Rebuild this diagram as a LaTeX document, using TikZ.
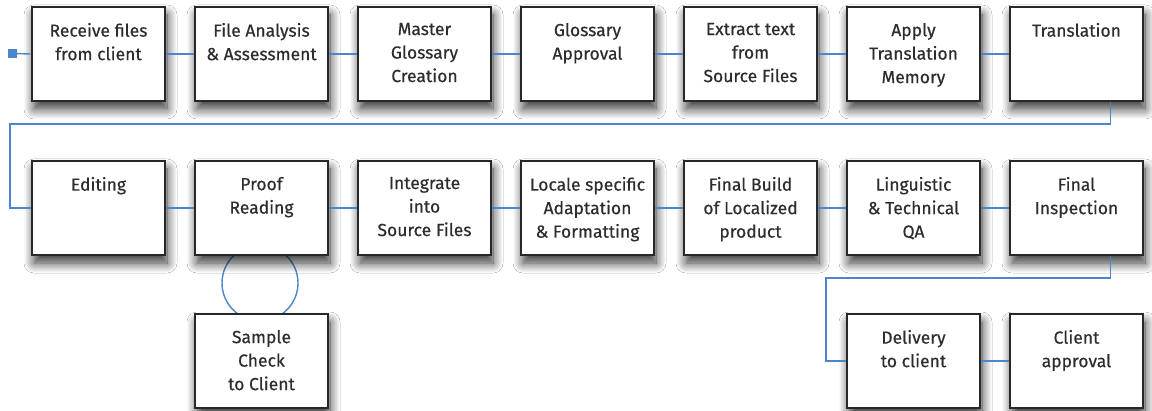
\documentclass[tikz,border=0pt]{standalone}
\usepackage{fontspec}
\setmainfont{Fira Sans}[FakeBold=0.4]
\usetikzlibrary{shadows.blur,calc}
\definecolor{conn}{RGB}{74,134,204}
\definecolor{edgec}{RGB}{40,40,40}
\definecolor{txt}{RGB}{45,45,45}
\newcommand{\bt}[1]{\parbox[c][94pt][t]{133pt}{\centering\fontsize{17.5}{23.5}\selectfont\vspace*{16pt}#1}}
\tikzset{
  box/.style={draw=edgec, line width=2.6pt, fill=white, inner sep=0pt, text=txt,
    blur shadow={shadow xshift=2pt, shadow yshift=-8pt, shadow blur radius=10pt, shadow opacity=80, shadow blur steps=12}},
  link/.style={draw=conn, line width=1.4pt},
  startsq/.style={fill=conn, minimum size=9pt, inner sep=0pt}
}
\begin{document}
\begin{tikzpicture}[x=1pt,y=-1pt]
\useasboundingbox[fill=white] (0,0) rectangle (1152,411);
\node[circle, link, minimum size=76pt, inner sep=0pt] (loop) at (260,283) {};
% row 1
\node[box] (r1) at (98.5,54) {\bt{Receive files\\from client}};
\node[box] (r2) at (261.5,54) {\bt{File Analysis\\\& Assessment}};
\node[box] (r3) at (424.5,54) {\bt{Master\\Glossary\\Creation}};
\node[box] (r4) at (587.5,54) {\bt{Glossary\\Approval}};
\node[box] (r5) at (750.5,54) {\bt{Extract text\\from\\Source Files}};
\node[box] (r6) at (913.5,54) {\bt{Apply\\Translation\\Memory}};
\node[box] (r7) at (1076.5,54) {\bt{Translation}};
% row 2
\node[box] (s1) at (98.5,208) {\bt{Editing}};
\node[box] (s2) at (261.5,208) {\bt{Proof\\Reading}};
\node[box] (s3) at (424.5,208) {\bt{Integrate\\into\\Source Files}};
\node[box] (s4) at (587.5,208) {\bt{Locale specific\\Adaptation\\\& Formatting}};
\node[box] (s5) at (750.5,208) {\bt{Final Build\\of Localized\\product}};
\node[box] (s6) at (913.5,208) {\bt{Linguistic\\\& Technical\\QA}};
\node[box] (s7) at (1076.5,208) {\bt{Final\\Inspection}};
% lower
\node[box] (sc) at (261.5,361) {\bt{Sample\\Check\\to Client}};
\node[box] (dl) at (913.5,361) {\bt{Delivery\\to client}};
\node[box] (ca) at (1076.5,361) {\bt{Client\\approval}};
% start marker
\node[startsq] (st) at (12.5,53.5) {};
\draw[link] (st) -- (r1.west);
\draw[link] (r1) -- (r2);
\draw[link] (r2) -- (r3);
\draw[link] (r3) -- (r4);
\draw[link] (r4) -- (r5);
\draw[link] (r5) -- (r6);
\draw[link] (r6) -- (r7);
\coordinate (t1) at ($(r7.south east)+(-34,0)$);
\coordinate (k1) at (10,124);
\draw[link] (t1) |- (k1) |- (s1.west);
\draw[link] (s1) -- (s2);
\draw[link] (s2) -- (s3);
\draw[link] (s3) -- (s4);
\draw[link] (s4) -- (s5);
\draw[link] (s5) -- (s6);
\draw[link] (s6) -- (s7);
\coordinate (t2) at ($(s7.south east)+(-34,0)$);
\coordinate (k2) at (826,278);
\draw[link] (t2) |- (k2) |- (dl.west);
\draw[link] (dl) -- (ca);
\end{tikzpicture}
\end{document}
